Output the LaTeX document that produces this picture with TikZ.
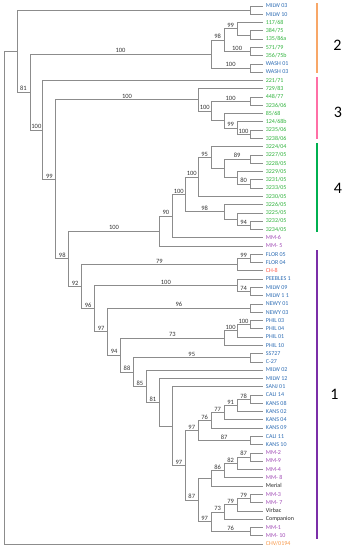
\documentclass[tikz,border=0pt]{standalone}
\usepackage{fontspec}
\setmainfont{Carlito}
\definecolor{ctree}{HTML}{8C8C8C}
\definecolor{cblue}{HTML}{2E6DB4}
\definecolor{cgreen}{HTML}{2EB23B}
\definecolor{cpurple}{HTML}{A04AB5}
\definecolor{cred}{HTML}{FF5A4A}
\definecolor{corange}{HTML}{F79646}
\definecolor{barorange}{HTML}{F8A768}
\definecolor{barpink}{HTML}{FF6FA6}
\definecolor{bargreen}{HTML}{00B050}
\definecolor{barpurple}{HTML}{7B2FA8}
\tikzset{
  leaf/.style={anchor=west, inner xsep=2.5pt, inner ysep=0.8pt, text height=4.4pt, text depth=0.9pt, font=\fontsize{6}{7}\selectfont},
  bs/.style={pos=0.75, above, inner sep=0.7pt, font=\fontsize{6.5}{7}\selectfont, text=black!80},
  grp/.style={font=\fontsize{16}{18}\selectfont},
  bar/.style={line width=2pt}
}

\begin{document}
\begin{tikzpicture}[x=1pt, y=-1pt, line width=0.8pt]
  \useasboundingbox (0,0) rectangle (347,550);
  % leaves
  \node[leaf, text=cblue] (milwA) at (263,6.00) {MILW 03};
  \node[leaf, text=cblue] (milwB) at (263,14.28) {MILW 10};
  \node[leaf, text=cgreen] (s117) at (263,22.55) {117/68};
  \node[leaf, text=cgreen] (s384) at (263,30.83) {384/75};
  \node[leaf, text=cgreen] (s135) at (263,39.11) {135/86a};
  \node[leaf, text=cgreen] (s571) at (263,47.39) {571/79};
  \node[leaf, text=cgreen] (s356) at (263,55.66) {356/75b};
  \node[leaf, text=cblue] (washA) at (263,63.94) {WASH 01};
  \node[leaf, text=cblue] (washB) at (263,72.22) {WASH 03};
  \node[leaf, text=cgreen] (s221) at (263,80.49) {221/71};
  \node[leaf, text=cgreen] (s729) at (263,88.77) {729/83};
  \node[leaf, text=cgreen] (s448) at (263,97.05) {448/77};
  \node[leaf, text=cgreen] (s3236) at (263,105.32) {3236/06};
  \node[leaf, text=cgreen] (s85) at (263,113.60) {85/68};
  \node[leaf, text=cgreen] (s124) at (263,121.88) {124/68b};
  \node[leaf, text=cgreen] (s3235) at (263,130.16) {3235/06};
  \node[leaf, text=cgreen] (s3238) at (263,138.43) {3238/06};
  \node[leaf, text=cgreen] (s3224) at (263,146.71) {3224/04};
  \node[leaf, text=cgreen] (s3227) at (263,154.99) {3227/05};
  \node[leaf, text=cgreen] (s3228) at (263,163.26) {3228/05};
  \node[leaf, text=cgreen] (s3229) at (263,171.54) {3229/05};
  \node[leaf, text=cgreen] (s3231) at (263,179.82) {3231/05};
  \node[leaf, text=cgreen] (s3233) at (263,188.09) {3233/05};
  \node[leaf, text=cgreen] (s3230) at (263,196.37) {3230/05};
  \node[leaf, text=cgreen] (s3226) at (263,204.65) {3226/05};
  \node[leaf, text=cgreen] (s3225) at (263,212.93) {3225/05};
  \node[leaf, text=cgreen] (s3232) at (263,221.20) {3232/05};
  \node[leaf, text=cgreen] (s3234) at (263,229.48) {3234/05};
  \node[leaf, text=cpurple] (mm6) at (263,237.76) {MM-6};
  \node[leaf, text=cpurple] (mm5) at (263,246.03) {MM- 5};
  \node[leaf, text=cblue] (florA) at (263,254.31) {FLOR 05};
  \node[leaf, text=cblue] (florB) at (263,262.59) {FLOR 04};
  \node[leaf, text=cred] (ch8) at (263,270.86) {CH-8};
  \node[leaf, text=cblue] (peebles) at (263,279.14) {PEEBLES 1};
  \node[leaf, text=cblue] (milwC) at (263,287.42) {MILW 09};
  \node[leaf, text=cblue] (milwD) at (263,295.70) {MILW 1 1};
  \node[leaf, text=cblue] (newyA) at (263,303.97) {NEWY 01};
  \node[leaf, text=cblue] (newyB) at (263,312.25) {NEWY 03};
  \node[leaf, text=cblue] (philA) at (263,320.53) {PHIL 03};
  \node[leaf, text=cblue] (philB) at (263,328.80) {PHIL 04};
  \node[leaf, text=cblue] (philC) at (263,337.08) {PHIL 01};
  \node[leaf, text=cblue] (philD) at (263,345.36) {PHIL 10};
  \node[leaf, text=cblue] (ss727) at (263,353.63) {SS727};
  \node[leaf, text=cblue] (c27) at (263,361.91) {C-27};
  \node[leaf, text=cblue] (milwE) at (263,370.19) {MILW 02};
  \node[leaf, text=cblue] (milwF) at (263,378.47) {MILW 12};
  \node[leaf, text=cblue] (sanj) at (263,386.74) {SANJ 01};
  \node[leaf, text=cblue] (caliA) at (263,395.02) {CALI 14};
  \node[leaf, text=cblue] (kansA) at (263,403.30) {KANS 08};
  \node[leaf, text=cblue] (kansB) at (263,411.57) {KANS 02};
  \node[leaf, text=cblue] (kansC) at (263,419.85) {KANS 04};
  \node[leaf, text=cblue] (kansD) at (263,428.13) {KANS 09};
  \node[leaf, text=cblue] (caliB) at (263,436.40) {CALI 11};
  \node[leaf, text=cblue] (kansE) at (263,444.68) {KANS 10};
  \node[leaf, text=cpurple] (mm2) at (263,452.96) {MM-2};
  \node[leaf, text=cpurple] (mm9) at (263,461.24) {MM-9};
  \node[leaf, text=cpurple] (mm4) at (263,469.51) {MM-4};
  \node[leaf, text=cpurple] (mm8) at (263,477.79) {MM- 8};
  \node[leaf, text=black!85] (merial) at (263,486.07) {Merial};
  \node[leaf, text=cpurple] (mm3) at (263,494.34) {MM-3};
  \node[leaf, text=cpurple] (mm7) at (263,502.62) {MM- 7};
  \node[leaf, text=black!85] (virbac) at (263,510.90) {Virbac};
  \node[leaf, text=black!85] (companion) at (263,519.17) {Companion};
  \node[leaf, text=cpurple] (mm1) at (263,527.45) {MM-1};
  \node[leaf, text=cpurple] (mm10) at (263,535.73) {MM- 10};
  \node[leaf, text=corange] (chv) at (263,544.00) {CHV/0194};

  % internal nodes
  \coordinate (root) at (4.00,297.54);
  \coordinate (c16) at (16.95,51.08);
  \coordinate (c30) at (29.90,92.02);
  \coordinate (cMilw) at (250.05,10.14);
  \coordinate (c2) at (211.20,54.11);
  \coordinate (c98) at (224.15,40.14);
  \coordinate (c99) at (237.10,28.76);
  \coordinate (c384) at (250.05,34.97);
  \coordinate (c571) at (250.05,51.53);
  \coordinate (cWash) at (250.05,68.08);
  \coordinate (c42) at (42.85,129.93);
  \coordinate (c55) at (55.80,179.36);
  \coordinate (c3) at (198.25,99.89);
  \coordinate (c448p) at (211.20,111.02);
  \coordinate (c448) at (250.05,101.19);
  \coordinate (c85) at (224.15,120.84);
  \coordinate (c124) at (237.10,128.09);
  \coordinate (c3235) at (250.05,134.30);
  \coordinate (c68) at (68.75,258.82);
  \coordinate (c160) at (159.40,231.06);
  \coordinate (c172) at (172.35,216.10);
  \coordinate (c185) at (185.30,194.43);
  \coordinate (c199) at (198.25,176.97);
  \coordinate (c212) at (211.20,157.58);
  \coordinate (c225) at (224.15,168.44);
  \coordinate (c3227) at (250.05,159.13);
  \coordinate (c237) at (237.10,177.75);
  \coordinate (c3231) at (250.05,183.96);
  \coordinate (c3226) at (224.15,211.89);
  \coordinate (c3225) at (237.10,219.13);
  \coordinate (c3232) at (250.05,225.34);
  \coordinate (c92) at (81.70,286.57);
  \coordinate (cCh8) at (237.10,264.66);
  \coordinate (cFlor) at (250.05,258.45);
  \coordinate (c96) at (94.65,308.47);
  \coordinate (cPeeb) at (237.10,285.35);
  \coordinate (cMilw09) at (250.05,291.56);
  \coordinate (c97) at (107.60,331.59);
  \coordinate (cNewy) at (250.05,308.11);
  \coordinate (c94) at (120.55,355.06);
  \coordinate (cPhil10) at (224.15,338.12);
  \coordinate (cPhil01) at (237.10,330.87);
  \coordinate (cPhil03) at (250.05,324.66);
  \coordinate (c88) at (133.50,372.00);
  \coordinate (cSS) at (250.05,357.77);
  \coordinate (c85b) at (146.45,386.22);
  \coordinate (c81) at (159.40,402.24);
  \coordinate (cSanj) at (172.35,426.00);
  \coordinate (cKM) at (185.30,465.25);
  \coordinate (cKans) at (198.25,430.46);
  \coordinate (cK09) at (211.20,420.37);
  \coordinate (cK04) at (224.15,412.61);
  \coordinate (cK02) at (237.10,405.37);
  \coordinate (cCali14) at (250.05,399.16);
  \coordinate (cCali11) at (250.05,440.54);
  \coordinate (cMM) at (198.25,500.04);
  \coordinate (cMerial) at (211.20,478.31);
  \coordinate (cMM8) at (224.15,470.55);
  \coordinate (cMM4) at (237.10,463.31);
  \coordinate (cMM2) at (250.05,457.10);
  \coordinate (cMM1p) at (211.20,521.76);
  \coordinate (cComp) at (224.15,511.93);
  \coordinate (cVirb) at (237.10,504.69);
  \coordinate (cMM3) at (250.05,498.48);
  \coordinate (cMM1) at (250.05,531.59);

  % branches
  \begin{scope}[ctree]
    \draw (root) |- (c16) (root) |- (chv);
    \draw (c16) |- (cMilw) (c16) |- (c30) node[bs] {81};
    \draw (cMilw) |- (milwA) (cMilw) |- (milwB);
    \draw (c30) |- (c2) node[bs] {100} (c30) |- (c42) node[bs] {100};
    \draw (c2) |- (c98) node[bs] {98} (c2) |- (cWash) node[bs] {100};
    \draw (c98) |- (c99) node[bs] {99} (c98) |- (c571) node[bs] {100};
    \draw (c99) |- (s117) (c99) |- (c384);
    \draw (c384) |- (s384) (c384) |- (s135);
    \draw (c571) |- (s571) (c571) |- (s356);
    \draw (cWash) |- (washA) (cWash) |- (washB);
    \draw (c42) |- (s221) (c42) |- (c55) node[bs] {99};
    \draw (c55) |- (c3) node[bs] {100} (c55) |- (c68) node[bs] {98};
    \draw (c3) |- (s729) (c3) |- (c448p) node[bs] {100};
    \draw (c448p) |- (c448) node[bs] {100} (c448p) |- (c85);
    \draw (c448) |- (s448) (c448) |- (s3236);
    \draw (c85) |- (s85) (c85) |- (c124) node[bs] {99};
    \draw (c124) |- (s124) (c124) |- (c3235) node[bs] {100};
    \draw (c3235) |- (s3235) (c3235) |- (s3238);
    \draw (c68) |- (c160) node[bs] {100} (c68) |- (c92) node[bs] {92};
    \draw (c160) |- (c172) node[bs] {90} (c160) |- (mm5);
    \draw (c172) |- (c185) node[bs] {100} (c172) |- (mm6);
    \draw (c185) |- (c199) node[bs] {100} (c185) |- (c3226) node[bs] {98};
    \draw (c199) |- (c212) node[bs] {95} (c199) |- (s3230);
    \draw (c212) |- (s3224) (c212) |- (c225);
    \draw (c225) |- (c3227) node[bs] {89} (c225) |- (c237);
    \draw (c3227) |- (s3227) (c3227) |- (s3228);
    \draw (c237) |- (s3229) (c237) |- (c3231) node[bs] {80};
    \draw (c3231) |- (s3231) (c3231) |- (s3233);
    \draw (c3226) |- (s3226) (c3226) |- (c3225);
    \draw (c3225) |- (s3225) (c3225) |- (c3232) node[bs] {94};
    \draw (c3232) |- (s3232) (c3232) |- (s3234);
    \draw (c92) |- (cCh8) node[bs] {79} (c92) |- (c96) node[bs] {96};
    \draw (cCh8) |- (cFlor) node[bs] {99} (cCh8) |- (ch8);
    \draw (cFlor) |- (florA) (cFlor) |- (florB);
    \draw (c96) |- (cPeeb) node[bs] {100} (c96) |- (c97) node[bs] {97};
    \draw (cPeeb) |- (peebles) (cPeeb) |- (cMilw09) node[bs] {74};
    \draw (cMilw09) |- (milwC) (cMilw09) |- (milwD);
    \draw (c97) |- (cNewy) node[bs] {96} (c97) |- (c94) node[bs] {94};
    \draw (cNewy) |- (newyA) (cNewy) |- (newyB);
    \draw (c94) |- (cPhil10) node[bs] {73} (c94) |- (c88) node[bs] {88};
    \draw (cPhil10) |- (cPhil01) node[bs] {100} (cPhil10) |- (philD);
    \draw (cPhil01) |- (cPhil03) node[bs] {100} (cPhil01) |- (philC);
    \draw (cPhil03) |- (philA) (cPhil03) |- (philB);
    \draw (c88) |- (cSS) node[bs] {95} (c88) |- (c85b) node[bs] {85};
    \draw (cSS) |- (ss727) (cSS) |- (c27);
    \draw (c85b) |- (milwE) (c85b) |- (c81) node[bs] {81};
    \draw (c81) |- (milwF) (c81) |- (cSanj);
    \draw (cSanj) |- (sanj) (cSanj) |- (cKM) node[bs] {97};
    \draw (cKM) |- (cKans) node[bs] {97} (cKM) |- (cMM) node[bs] {87};
    \draw (cKans) |- (cK09) node[bs] {76} (cKans) |- (cCali11) node[bs] {87};
    \draw (cK09) |- (cK04) node[bs] {77} (cK09) |- (kansD);
    \draw (cK04) |- (cK02) node[bs] {91} (cK04) |- (kansC);
    \draw (cK02) |- (cCali14) node[bs] {78} (cK02) |- (kansB);
    \draw (cCali14) |- (caliA) (cCali14) |- (kansA);
    \draw (cCali11) |- (caliB) (cCali11) |- (kansE);
    \draw (cMM) |- (cMerial) (cMM) |- (cMM1p) node[bs] {97};
    \draw (cMerial) |- (cMM8) node[bs] {86} (cMerial) |- (merial);
    \draw (cMM8) |- (cMM4) node[bs] {82} (cMM8) |- (mm8);
    \draw (cMM4) |- (cMM2) node[bs] {87} (cMM4) |- (mm4);
    \draw (cMM2) |- (mm2) (cMM2) |- (mm9);
    \draw (cMM1p) |- (cComp) node[bs] {73} (cMM1p) |- (cMM1) node[bs] {76};
    \draw (cComp) |- (cVirb) node[bs] {79} (cComp) |- (companion);
    \draw (cVirb) |- (cMM3) node[bs] {79} (cVirb) |- (virbac);
    \draw (cMM3) |- (mm3) (cMM3) |- (mm7);
    \draw (cMM1) |- (mm1) (cMM1) |- (mm10);
  \end{scope}

  % groups
  \draw[bar, barorange] (316.7,3) -- (316.7,73);
  \draw[bar, barpink] (316.7,77) -- (316.7,138.5);
  \draw[bar, bargreen] (316.7,143) -- (316.7,232);
  \draw[bar, barpurple] (316.7,250) -- (316.7,539);
  \node[grp] (g2) at (337.5,45) {2};
  \node[grp] (g3) at (338,112) {3};
  \node[grp] (g4) at (338,188) {4};
  \node[grp] (g1) at (334.5,394) {1};
\end{tikzpicture}
\end{document}
